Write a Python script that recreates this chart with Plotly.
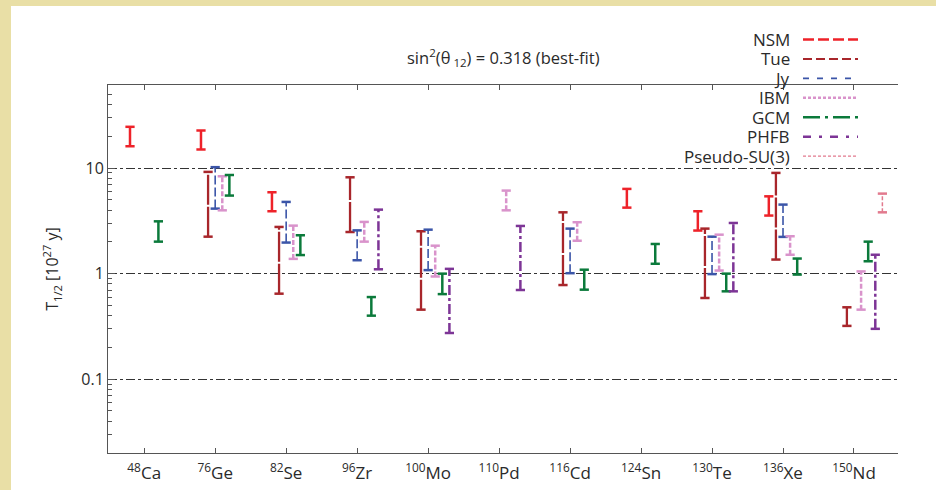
import math
import plotly.graph_objects as go

# ---------------- data ----------------
mass_numbers = ["48", "76", "82", "96", "100", "110", "116", "124", "130", "136", "150"]
elements = ["Ca", "Ge", "Se", "Zr", "Mo", "Pd", "Cd", "Sn", "Te", "Xe", "Nd"]
tick_labels = [f"<sup>{m}</sup>{e}" for m, e in zip(mass_numbers, elements)]

N = None
# lower / upper half-life limits in 1e27 y (per nucleus, None = not computed)
nsm_lo = [16.1, 15.0, 3.9, N, N, N, N, 4.22, 2.56, 3.55, N]
nsm_hi = [24.6, 22.7, 5.9, N, N, N, N, 6.35, 3.9, 5.4, N]
tue_lo = [N, 2.24, 0.646, 2.48, 0.456, N, 0.78, N, 0.588, 1.36, 0.32]
tue_hi = [N, 9.2, 2.77, 8.18, 2.52, N, 3.81, N, 2.67, 9.0, 0.48]
jy_lo = [N, 4.13, 1.97, 1.34, 1.08, N, 1.01, N, 0.99, 2.23, N]
jy_hi = [N, 10.2, 4.78, 2.57, 2.61, N, 2.67, N, 2.24, 4.51, N]
ibm_lo = [N, 3.98, 1.38, 2.01, 0.94, 3.98, 2.05, N, 1.07, 1.51, 0.456]
ibm_hi = [N, 8.36, 2.85, 3.09, 1.84, 6.12, 3.07, N, 2.34, 2.26, 1.05]
gcm_lo = [2.01, 5.49, 1.5, 0.40, 0.64, N, 0.705, 1.24, 0.68, 0.98, 1.31]
gcm_hi = [3.13, 8.6, 2.31, 0.60, 1.0, N, 1.09, 1.91, 1.0, 1.39, 2.01]
phfb_lo = [N, N, N, 1.1, 0.274, 0.70, N, N, 0.68, N, 0.30]
phfb_hi = [N, N, N, 4.04, 1.11, 2.83, N, N, 3.02, N, 1.51]
psu3_lo = [N, N, N, N, N, N, N, N, N, N, 3.81]
psu3_hi = [N, N, N, N, N, N, N, N, N, N, 5.73]

model_names = ["NSM", "Tue", "Jy", "IBM", "GCM", "PHFB", "Pseudo-SU(3)"]
model_lo = [nsm_lo, tue_lo, jy_lo, ibm_lo, gcm_lo, phfb_lo, psu3_lo]
model_hi = [nsm_hi, tue_hi, jy_hi, ibm_hi, gcm_hi, phfb_hi, psu3_hi]

# ---------------- styles ----------------
colors = ["#ee2229", "#a8262b", "#3b55a8", "#d993cb", "#0b7a3b", "#7d3596", "#e27a8e"]
widths = [2.5, 2.3, 1.6, 2.5, 2.5, 2.5, 1.5]
bar_dash = ["solid", "30px,2px", "9px,3px", "5px,2px", "solid", "10px,3px,3px,3px", "4px,2px"]
legend_dash = ["11px,4px", "9px,4px", "6px,8px", "3px,2px", "17px,5px,3px,5px",
               "8px,8px,3px,8px", "3px,2px"]
legend_width = [2.5, 2.0, 1.6, 2.5, 2.5, 2.5, 1.3]
step = 0.1        # horizontal spacing between models within a nucleus
cap = 0.065       # cap half-width

fig = go.Figure()
for m, name in enumerate(model_names):
    xs, ys, cx, cy = [], [], [], []
    for i, (lo, hi) in enumerate(zip(model_lo[m], model_hi[m])):
        if lo is None:
            continue
        x = i + 1 + (m - 2) * step
        xs += [x, x, None]
        ys += [lo, hi, None]
        cx += [x - cap, x + cap, None, x - cap, x + cap, None]
        cy += [lo, lo, None, hi, hi, None]
    fig.add_trace(go.Scatter(x=xs, y=ys, mode="lines", name=name, legendgroup=name,
                             showlegend=False,
                             line=dict(color=colors[m], width=widths[m], dash=bar_dash[m])))
    fig.add_trace(go.Scatter(x=cx, y=cy, mode="lines", name=name, legendgroup=name,
                             showlegend=False, hoverinfo="skip",
                             line=dict(color=colors[m], width=2.5)))

# ---------------- layout ----------------
L, R, T, B = 108, 38, 85, 37
W, H = 936, 490
pw, ph = W - L - R, H - T - B

def px_x(p):
    return (p - L) / pw

def px_y(p):
    return (H - B - p) / ph

shapes = [dict(type="rect", xref="paper", yref="paper", layer="below",
               x0=px_x(11), x1=px_x(W + 5), y0=px_y(H + 5), y1=px_y(6),
               fillcolor="white", line=dict(width=0))]
annotations = []
row0, drow = 39.5, 19.45
for m, name in enumerate(model_names):
    yy = px_y(row0 + m * drow)
    annotations.append(dict(x=px_x(792), y=yy, xref="paper", yref="paper",
                            xanchor="right", yanchor="middle", showarrow=False,
                            text=name, font=dict(size=17, color="#2a2a2a")))
    shapes.append(dict(type="line", xref="paper", yref="paper",
                       x0=px_x(803), x1=px_x(858), y0=yy, y1=yy,
                       line=dict(color=colors[m], width=legend_width[m], dash=legend_dash[m])))

annotations.append(dict(x=0.5, y=px_y(58), xref="paper", yref="paper",
                        xanchor="center", yanchor="middle", showarrow=False,
                        text="sin<sup>2</sup>(θ<sub> 12</sub>) = 0.318 (best-fit)",
                        font=dict(size=16.5, color="#2a2a2a")))

yrange = [math.log10(0.02), 1.787]
axis_col = "#555555"
fig.update_layout(
    width=W, height=H,
    margin=dict(l=L, r=R, t=T, b=B, pad=0, autoexpand=False),
    paper_bgcolor="#e9dfa6", plot_bgcolor="white",
    font=dict(family="Open Sans", color="#2a2a2a"),
    showlegend=False,
    shapes=shapes, annotations=annotations,
    xaxis=dict(range=[0.49, 11.62], tickmode="array", tickvals=list(range(1, 12)),
               ticktext=tick_labels, ticks="inside", ticklen=5, tickcolor=axis_col,
               showline=True, linecolor=axis_col, linewidth=1, mirror="ticks",
               showgrid=False, zeroline=False, tickfont=dict(size=17),
               ticklabelstandoff=5, automargin=False),
    yaxis=dict(type="log", range=yrange, dtick=1, ticks="inside", ticklen=7,
               tickcolor=axis_col, showline=True, linecolor=axis_col, linewidth=1,
               showgrid=True, gridcolor="#333333", griddash="dashdot", gridwidth=1,
               zeroline=False, tickfont=dict(size=16), automargin=False,
               minor=dict(dtick="D1", ticks="inside", ticklen=4, tickcolor=axis_col,
                          showgrid=False),
               title=dict(text="T<sub>1/2</sub> [10<sup>27</sup> y]", font=dict(size=16),
                          standoff=18)),
    yaxis2=dict(type="log", range=yrange, dtick=1, overlaying="y", side="right",
                anchor="x", ticks="inside", ticklen=5, tickcolor=axis_col,
                showticklabels=False, showline=False, showgrid=False, zeroline=False,
                automargin=False,
                minor=dict(dtick="D1", ticks="inside", ticklen=4, tickcolor=axis_col,
                           showgrid=False)),
)

fig.write_html("out.html", config={"displayModeBar": False},
               post_script="document.body.style.margin='0';"
                           "document.body.style.overflow='hidden';")
